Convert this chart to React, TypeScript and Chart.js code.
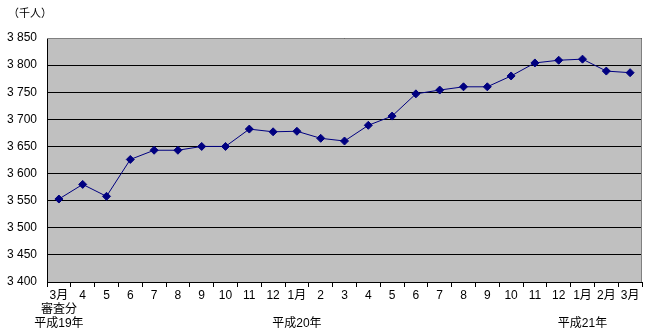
import React, { useEffect, useRef } from "react";
import { Chart, registerables } from "chart.js";

Chart.register(...registerables);

const categories: (string | string[])[] = [
  ["3月", "審査分", "平成19年"], "4", "5", "6", "7", "8", "9", "10", "11", "12",
  ["1月", "", "平成20年"], "2", "3", "4", "5", "6", "7", "8", "9", "10", "11", "12",
  ["1月", "", "平成21年"], "2月", "3月",
];

const values: number[] = [
  3553, 3580, 3558, 3626, 3643, 3643, 3650, 3650, 3682, 3677, 3678, 3665, 3660,
  3689, 3706, 3747, 3754, 3760, 3760, 3780, 3804, 3809, 3811, 3789, 3786,
];

const yMin = 3400;
const yMax = 3850;
const yStep = 50;
const unitLabel = "（千人）";

const FONT = '"Liberation Sans", "Noto Sans CJK JP", sans-serif';

const plotBg = {
  id: "plotBg",
  beforeDraw(chart: any) {
    const { ctx, chartArea } = chart;
    if (!chartArea) return;
    ctx.save();
    ctx.fillStyle = "#C0C0C0";
    ctx.fillRect(chartArea.left, chartArea.top, chartArea.right - chartArea.left, chartArea.bottom - chartArea.top);
    ctx.restore();
  },
  afterDatasetsDraw(chart: any) {
    const { ctx, chartArea } = chart;
    ctx.save();
    ctx.strokeStyle = "#808080";
    ctx.lineWidth = 1;
    ctx.beginPath();
    ctx.moveTo(chartArea.left, chartArea.top + 0.5);
    ctx.lineTo(chartArea.right - 0.5, chartArea.top + 0.5);
    ctx.lineTo(chartArea.right - 0.5, chartArea.bottom);
    ctx.stroke();
    ctx.restore();
  },
};

export default function App() {
  const ref = useRef<HTMLCanvasElement>(null);
  useEffect(() => {
    document.body.style.margin = "0";
    Chart.defaults.color = "#000";
    const chart = new Chart(ref.current!, {
      type: "line",
      data: {
        labels: categories,
        datasets: [
          {
            data: values,
            borderColor: "#000080",
            backgroundColor: "#000080",
            borderWidth: 1,
            pointStyle: "rectRot",
            pointRadius: 4,
            pointBorderWidth: 1,
            pointBackgroundColor: "#000080",
            pointBorderColor: "#000080",
            tension: 0,
            fill: false,
          },
        ],
      },
      options: {
        animation: false,
        responsive: false,
        maintainAspectRatio: false,
        layout: { padding: { top: 38, right: 11, left: 0, bottom: 0 } },
        plugins: {
          legend: { display: false },
          tooltip: { enabled: false },
        },
        scales: {
          x: {
            type: "category",
            offset: true,
            grid: {
              offset: true,
              drawOnChartArea: false,
              drawTicks: true,
              tickLength: 5,
              color: "#000",
            },
            border: { color: "#000", width: 1 },
            ticks: {
              autoSkip: false,
              maxRotation: 0,
              minRotation: 0,
              padding: 2,
              color: "#000",
              font: { family: FONT, size: 12, lineHeight: 1.15 },
            },
            afterFit(scale: any) {
              scale.height = 54;
            },
          },
          y: {
            min: yMin,
            max: yMax,
            grid: { color: "#000", lineWidth: 1, drawTicks: false },
            border: { color: "#000", width: 1 },
            ticks: {
              stepSize: yStep,
              padding: 10,
              color: "#000",
              font: { family: FONT, size: 12 },
              callback: (v: any) => {
                const n = Number(v);
                const th = Math.floor(n / 1000);
                const rest = String(n % 1000).padStart(3, "0");
                return `${th} ${rest}`;
              },
            },
            afterFit(scale: any) {
              scale.width = 47;
            },
          },
        },
      },
      plugins: [plotBg],
    });
    return () => chart.destroy();
  }, []);
  return (
    <div style={{ position: "relative", width: 653, height: 336, background: "#fff" }}>
      <canvas ref={ref} width={653} height={336} style={{ display: "block" }} />
      <div
        style={{
          position: "absolute",
          left: 8,
          top: 4,
          fontFamily: '"Noto Sans CJK JP", sans-serif',
          fontSize: 11,
          color: "#000",
          lineHeight: "16px",
        }}
      >
        {unitLabel}
      </div>
    </div>
  );
}
